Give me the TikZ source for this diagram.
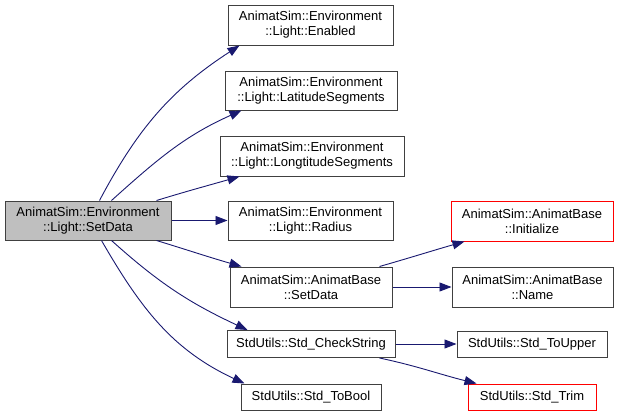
\documentclass[tikz,border=0pt]{standalone}
\usepackage{fontspec}
\setmainfont{Liberation Sans}
\usetikzlibrary{arrows.meta}
\definecolor{edgeblue}{RGB}{25,25,112}
\definecolor{boxgrey}{RGB}{191,191,191}
\definecolor{boxline}{RGB}{64,64,64}
\tikzset{
  fn/.style={draw=boxline, line width=1pt, fill=white, align=center, inner sep=0pt,
    font=\fontsize{13pt}{15pt}\selectfont},
  rootfn/.style={fn, fill=boxgrey},
  redfn/.style={fn, draw=red},
  call/.style={draw=edgeblue, line width=0.9pt, -{Triangle[length=12pt,width=9pt]}}
}
\begin{document}
\begin{tikzpicture}[x=1pt,y=1pt]
\useasboundingbox (0,0) rectangle (619,-415);
\node[rootfn, minimum width=166pt, minimum height=39pt] (root) at (88,-220.5) {AnimatSim::Environment\\::Light::SetData};
\node[fn, minimum width=165pt, minimum height=40pt] (en) at (310.5,-25) {AnimatSim::Environment\\::Light::Enabled};
\node[fn, minimum width=172pt, minimum height=39pt] (lat) at (311,-90.5) {AnimatSim::Environment\\::Light::LatitudeSegments};
\node[fn, minimum width=184pt, minimum height=40pt] (lon) at (312,-156) {AnimatSim::Environment\\::Light::LongtitudeSegments};
\node[fn, minimum width=165pt, minimum height=39pt] (rad) at (310.5,-221) {AnimatSim::Environment\\::Light::Radius};
\node[fn, minimum width=162pt, minimum height=40pt] (sd) at (311,-287) {AnimatSim::AnimatBase\\::SetData};
\node[fn, minimum width=168pt, minimum height=27pt] (cs) at (311,-344) {StdUtils::Std\_CheckString};
\node[fn, minimum width=140pt, minimum height=26pt] (tb) at (311,-397) {StdUtils::Std\_ToBool};
\node[redfn, minimum width=162pt, minimum height=40pt] (init) at (532,-221) {AnimatSim::AnimatBase\\::Initialize};
\node[fn, minimum width=161pt, minimum height=40pt] (name) at (532.5,-287) {AnimatSim::AnimatBase\\::Name};
\node[fn, minimum width=150pt, minimum height=26pt] (up) at (532,-344) {StdUtils::Std\_ToUpper};
\node[redfn, minimum width=128pt, minimum height=26pt] (trim) at (532,-397) {StdUtils::Std\_Trim};

\draw[call] ([xshift=95pt]root.north west) to[out=62,in=213] ([xshift=12pt]en.south west);
\draw[call] ([xshift=107pt]root.north west) to[out=42,in=204] ([xshift=17pt]lat.south west);
\draw[call] ([xshift=152pt]root.north west) to[out=17,in=196] ([xshift=20pt]lon.south west);
\draw[call] (root.east) -- (root.east -| rad.west);
\draw[call] ([xshift=152pt]root.south west) to[out=-17,in=164] ([xshift=12pt]sd.north west);
\draw[call] ([xshift=107pt]root.south west) to[out=-42,in=155] ([xshift=21pt]cs.north west);
\draw[call] ([xshift=97pt]root.south west) to[out=-60,in=155] ([xshift=4pt]tb.north west);
\draw[call] ([xshift=150pt]sd.north west) to[out=16,in=196] ([xshift=14pt]init.south west);
\draw[call] (sd.east) -- (sd.east -| name.west);
\draw[call] (cs.east) -- (cs.east -| up.west);
\draw[call] ([xshift=153pt]cs.south west) to[out=-12,in=166] ([xshift=9pt]trim.north west);
\end{tikzpicture}
\end{document}
